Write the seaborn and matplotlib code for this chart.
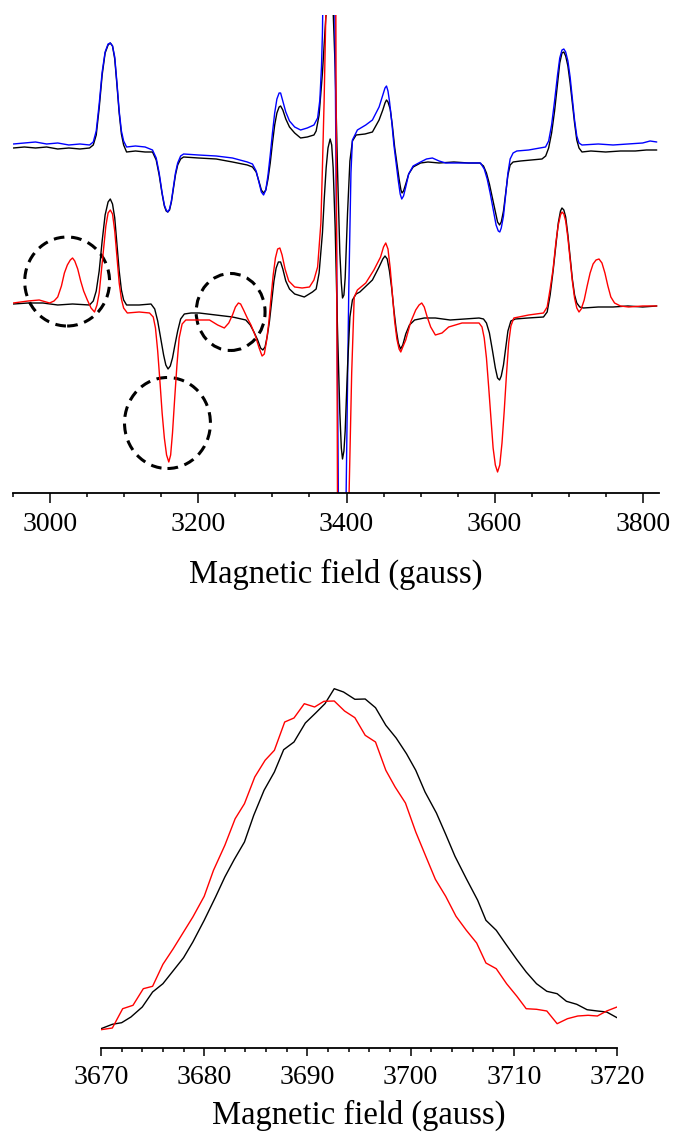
import numpy as np
import pandas as pd
import seaborn as sns
import matplotlib.pyplot as plt
from matplotlib.patches import Ellipse
from matplotlib.ticker import MultipleLocator

# ---- full scan (upper panel), intensity in arbitrary units ----
# upper pair: reference (black) and sample (blue)
up_black_x = [2950, 2965, 2980, 2995, 3010, 3025, 3040, 3053, 3058, 3062, 3066, 3070, 3074, 3078, 3081, 3084,
              3087, 3090, 3093, 3096, 3099, 3103, 3115, 3128, 3138, 3143, 3147, 3151, 3154, 3156.5, 3158.6,
              3161, 3163.5, 3166, 3169, 3172, 3176, 3180, 3200, 3224, 3246, 3266, 3273, 3278, 3282, 3285, 3288,
              3291, 3294, 3297, 3300, 3303, 3306, 3309, 3311, 3314, 3318, 3323, 3330, 3338, 3347, 3356, 3359,
              3363, 3367.5, 3372, 3375.6, 3377.9, 3381, 3384.7, 3387.8, 3391, 3393, 3394.6, 3396.5, 3398.2,
              3401.4, 3404.6, 3408, 3413, 3425, 3435, 3444, 3449, 3452, 3454, 3456, 3459, 3462, 3465, 3468,
              3471, 3473.5, 3475, 3477, 3480, 3484, 3490, 3500, 3510, 3525, 3545, 3565, 3580, 3585, 3589, 3593,
              3597, 3601, 3604, 3606.7, 3609, 3612, 3615, 3618, 3621, 3625, 3635, 3650, 3664, 3669, 3673, 3677,
              3681, 3685, 3688, 3691, 3693.5, 3696, 3699, 3702, 3705, 3708, 3711, 3714, 3718, 3730, 3750, 3770,
              3790, 3805, 3819]
up_black_y = [345, 346, 345, 346, 344, 345, 344, 345, 348, 358, 385, 418, 440, 448, 450, 447,
              434, 408, 380, 359, 348, 341, 342, 341, 341, 333, 318, 299, 287, 282, 281,
              283, 291, 303, 318, 328, 334, 336, 335, 334, 331, 328, 326, 321, 311, 303, 300,
              303, 314, 330, 350, 368, 380, 386, 387, 383, 374, 366, 360, 355, 356, 358, 362,
              378, 420, 475, 505, 514, 502, 425, 325, 240, 210, 195, 198, 215,
              280, 332, 352, 358, 359, 361, 373, 383, 390, 393, 391, 384, 367, 346, 330,
              314, 303, 300, 302, 309, 319, 326, 330, 331, 330, 331, 330, 330, 327, 320, 309,
              295, 281, 271, 268, 271, 282, 300, 318, 328, 331, 332, 333, 334, 337, 345, 360,
              382, 410, 430, 440, 441, 437, 427, 410, 390, 370, 353, 345, 341, 342, 341, 342,
              342, 343, 343]

up_blue_x = [2950, 2965, 2980, 2995, 3010, 3025, 3040, 3053, 3058, 3062, 3066, 3070, 3074, 3078, 3081, 3084,
             3087, 3090, 3093, 3096, 3099, 3103, 3115, 3128, 3138, 3143, 3147, 3151, 3154, 3156.5, 3158.6,
             3161, 3163.5, 3166, 3169, 3172, 3176, 3180, 3200, 3224, 3246, 3266, 3273, 3278, 3282, 3285, 3288,
             3291, 3294, 3297, 3300, 3303, 3306, 3309, 3311, 3314, 3318, 3323, 3330, 3338, 3347, 3356, 3361,
             3364, 3366.2, 3367.5, 3372, 3376, 3380, 3384.3, 3389, 3392, 3395, 3398, 3399.5, 3403, 3406, 3408,
             3414.7, 3426, 3435, 3444, 3449, 3452, 3454, 3456, 3458, 3461, 3464, 3467, 3470, 3472.5, 3474.6,
             3477, 3480, 3484, 3490, 3500, 3508, 3516, 3525, 3534, 3556, 3581, 3586, 3590, 3594, 3598, 3602,
             3605, 3607, 3609, 3612, 3615, 3618, 3621, 3625, 3630, 3646, 3668.8, 3673, 3677, 3681, 3685, 3688,
             3691, 3693.5, 3696, 3699, 3702, 3705, 3708, 3711, 3714, 3718, 3740, 3760, 3780, 3800, 3810, 3819]
up_blue_y = [349, 350, 351, 349, 350, 348, 349, 348, 351, 362, 389, 421, 441, 449, 450, 447,
             436, 410, 382, 362, 352, 346, 347, 346, 343, 335, 320, 300, 288, 283, 281,
             284, 292, 305, 320, 330, 337, 339, 338, 337, 335, 331, 329, 322, 310, 301, 298,
             303, 318, 338, 360, 380, 394, 400, 400, 392, 381, 372, 366, 363, 365, 368, 375,
             393, 426, 460, 700, 850, 780, 478, 0, -220, -260, -100, 0, 200, 320, 353,
             363, 368, 373, 386, 398, 405, 407, 402, 392, 372, 348, 330, 312, 299, 294,
             297, 306, 319, 327, 331, 334, 335, 332, 330, 330, 330, 324, 314, 300, 284, 268,
             262, 261, 265, 277, 298, 320, 334, 340, 342, 343, 346, 352, 368, 392, 418, 435,
             443, 444, 441, 432, 416, 395, 373, 357, 350, 348, 349, 348, 349, 350, 352, 351]

# lower pair: reference (black) and sample (red)
lo_black_x = [2950, 2970, 2990, 3010, 3030, 3053, 3058, 3062, 3066, 3070, 3074, 3078, 3081, 3084, 3087, 3090,
              3093, 3096, 3099, 3103, 3120, 3136, 3141, 3145, 3149, 3153, 3156, 3159, 3162, 3165, 3168, 3172,
              3176, 3181, 3190, 3201, 3224, 3246, 3264, 3270, 3275, 3280, 3284, 3287, 3290, 3293, 3296, 3299,
              3302, 3305, 3308, 3311, 3314, 3318, 3323, 3330, 3343, 3354, 3359, 3363, 3367.5, 3370, 3372.5,
              3375, 3377.9, 3380, 3382, 3384.7, 3387.8, 3391, 3393, 3394.6, 3396.5, 3398.2, 3401.4, 3404.6,
              3408, 3413, 3418, 3435, 3444, 3449, 3452, 3455, 3458, 3461, 3464, 3467, 3470, 3473, 3476, 3480,
              3485, 3492, 3505, 3520, 3540, 3560, 3579, 3585, 3589, 3593, 3597, 3601, 3604, 3606.7, 3609, 3612,
              3615, 3618, 3622, 3628, 3645, 3666, 3671, 3675, 3679, 3683, 3686, 3689, 3691, 3693.5, 3696,
              3699, 3702, 3705, 3708, 3711, 3715, 3720, 3740, 3760, 3780, 3800, 3819]
lo_black_y = [189, 190, 190, 188, 189, 188, 192, 202, 222, 252, 278, 291, 294, 289, 275, 248,
              222, 203, 193, 188, 188, 189, 184, 172, 155, 138, 128, 124, 127, 135, 147, 162,
              174, 179, 180, 180, 178, 176, 173, 168, 161, 153, 145, 143, 146, 157, 172, 192,
              212, 225, 231, 231, 224, 212, 204, 199, 196, 201, 204, 220, 260, 295, 325,
              345, 354, 348, 325, 265, 165, 80, 45, 34, 42, 62, 126, 176,
              193, 199, 201, 213, 226, 234, 237, 234, 222, 205, 183, 164, 150, 144, 148, 159,
              168, 173, 175, 175, 173, 174, 175, 174, 170, 160, 143, 125, 115, 113, 117, 128,
              145, 162, 172, 174, 175, 176, 181, 198, 222, 250, 270, 282, 285, 283, 276,
              258, 236, 214, 198, 190, 186, 185, 186, 186, 187, 186, 187]

lo_red_x = [2950, 2970, 2985, 2999, 3005, 3010, 3015, 3019, 3023, 3027, 3030, 3033, 3037, 3041, 3045, 3050,
            3055, 3059.7, 3063, 3066, 3069, 3072, 3075, 3078, 3081, 3084, 3087, 3090, 3093, 3096, 3099, 3104,
            3120, 3134, 3139, 3142, 3145, 3148, 3151, 3154, 3157, 3160, 3162.5, 3165, 3168, 3171, 3174, 3178,
            3183, 3201, 3215, 3226, 3235, 3241, 3246, 3250, 3254, 3257, 3261, 3266, 3271, 3277, 3282, 3286,
            3289, 3292, 3295, 3298, 3301, 3304, 3307, 3310, 3313, 3317, 3322, 3330, 3340, 3350, 3356, 3361,
            3365.4, 3367.5, 3369.8, 3372.1, 3376, 3380, 3383, 3385.6, 3387.8, 3392, 3396, 3400, 3403.5,
            3407, 3410.4, 3414.7, 3426, 3437, 3446, 3450, 3453, 3456, 3459, 3462, 3465, 3468, 3471, 3473.3,
            3476, 3480, 3486.7, 3493.5, 3498, 3501.6, 3505, 3509, 3513.7, 3520, 3529, 3538, 3556, 3579, 3583,
            3586, 3589, 3592, 3595, 3598, 3601, 3604, 3607, 3610, 3613, 3616, 3619, 3622, 3626, 3646, 3666,
            3671, 3675, 3679, 3683, 3686, 3689, 3691, 3693.5, 3696, 3699, 3702, 3705, 3708, 3711, 3714, 3717,
            3721, 3725, 3729, 3733, 3737, 3741, 3745, 3749, 3753, 3757, 3762, 3770, 3781, 3800, 3819]
lo_red_y = [190, 192, 193, 190, 192, 196, 207, 220, 228, 233, 235, 232, 224, 212, 202, 193,
            185, 181, 188, 200, 222, 245, 267, 280, 283, 279, 262, 236, 210, 194, 185, 180,
            181, 180, 176, 165, 142, 112, 80, 55, 38, 31, 38, 60, 95, 128, 155, 169,
            173, 173, 173, 168, 165, 170, 178, 186, 190, 189, 183, 175, 168, 157, 145, 137,
            139, 152, 170, 195, 218, 235, 244, 245, 238, 224, 212, 206, 205, 206, 213, 226,
            270, 326, 393, 480, 800, 950, 800, 478, 0, -300, -380, -250, 0,
            120, 196, 203, 210, 223, 236, 246, 250, 244, 225, 198, 172, 154, 144, 141,
            146, 153, 171, 183, 188, 190, 186, 176, 166, 158, 160, 166, 170, 170, 166,
            155, 135, 106, 75, 45, 28, 21, 28, 50, 82, 118, 150, 167, 175, 178, 180,
            186, 204, 224, 252, 268, 278, 281, 279, 272, 255, 234, 212, 195, 185, 181, 184,
            193, 207, 220, 229, 233, 234, 230, 220, 207, 196, 190, 187, 186, 187, 187]

# dashed circles marking the extra sample lines (centre, width, height in data units)
mark_x = [3022.7, 3158.2, 3243.5]
mark_y = [211.5, 70, 181]
mark_w = [114.6, 116, 93]
mark_h = [89, 91, 77]

# ---- zoom on the high-field line (lower panel) ----
zoom_black_x = [3670, 3671.1, 3672, 3672.9, 3674, 3675, 3676, 3676.9, 3678, 3678.9, 3680, 3681.1, 3682,
                3682.9, 3683.9, 3684.8, 3685.8, 3686.8, 3687.7, 3688.7, 3689.8, 3690.8, 3691.7, 3692.6, 3693.5,
                3694.6, 3695.6, 3696.6, 3697.6, 3698.6, 3699.6, 3700.5, 3701.4, 3702.5, 3703.4, 3704.3, 3705.4,
                3706.5, 3707.3, 3708.3, 3709.2, 3710.3, 3711.2, 3712.2, 3713.2, 3714.2, 3715.1, 3716.1, 3717.1,
                3718.1, 3719, 3720]
zoom_black_y = [19.3, 23.7, 25.3, 31, 41, 56, 64.3, 76, 90.3, 106, 127.7, 151, 171,
                188.3, 206, 232.7, 257.7, 276, 298.3, 306, 325, 335, 344.3, 359.3, 356,
                348.7, 349, 340.3, 322.7, 310, 294.3, 277.7, 256, 235, 213.7, 191.7, 169.3,
                147.7, 127.7, 117.7, 104.3, 88.3, 76, 64.3, 56.7, 54.3, 46.7, 43.7, 38.3,
                37, 36, 30.3]

zoom_red_x = [3670, 3671.1, 3672.1, 3673.1, 3674.1, 3675, 3676, 3677, 3678, 3678.9, 3680, 3680.9, 3682,
              3683, 3683.9, 3684.9, 3685.9, 3686.8, 3687.8, 3688.7, 3689.7, 3690.7, 3691.6, 3692.6, 3693.6,
              3694.6, 3695.6, 3696.6, 3697.6, 3698.5, 3699.5, 3700.5, 3701.5, 3702.4, 3703.4, 3704.4, 3705.4,
              3706.4, 3707.3, 3708.3, 3709.3, 3710.3, 3711.2, 3712.2, 3713.2, 3714.2, 3715.2, 3716.2, 3717.2,
              3718.1, 3719, 3720]
zoom_red_y = [18.3, 20, 39.3, 42.7, 59.3, 61.7, 83.7, 99.3, 116, 131, 151.7, 177.7, 202.7,
              229.3, 244.3, 271, 287.7, 297.7, 326, 330, 344.3, 341, 346.7, 347, 337,
              330.3, 312.7, 306, 277.7, 261, 245, 216, 191, 168.7, 151.7, 131.7, 117.7,
              105, 85, 79.3, 64.3, 51.7, 39.3, 38.7, 37, 24.3, 29.3, 32, 32.7,
              32, 37, 41]

sns.set_style('white')
plt.rcParams['font.family'] = ['Liberation Serif', 'DejaVu Serif']
plt.rcParams['text.color'] = 'black'
plt.rcParams['axes.labelcolor'] = 'black'
plt.rcParams['xtick.color'] = 'black'
plt.rcParams['axes.edgecolor'] = 'black'

fig = plt.figure(figsize=(6.73, 11.35), dpi=100)
ax1 = fig.add_axes([0.01976, 0.56564, 0.9594, 0.42115])
ax2 = fig.add_axes([0.15007, 0.076652, 0.76672, 0.33304])

lw = 1.0
sns.lineplot(x=up_black_x, y=up_black_y, ax=ax1, color='black', lw=lw, sort=False, estimator=None)
sns.lineplot(x=up_blue_x, y=up_blue_y, ax=ax1, color='#0000ff', lw=lw, sort=False, estimator=None)
sns.lineplot(x=lo_black_x, y=lo_black_y, ax=ax1, color='black', lw=lw, sort=False, estimator=None)
sns.lineplot(x=lo_red_x, y=lo_red_y, ax=ax1, color='#ff0000', lw=lw, sort=False, estimator=None)

for cx, cy, w, h in zip(mark_x, mark_y, mark_w, mark_h):
    ax1.add_patch(Ellipse((cx, cy), w, h, fill=False, edgecolor='black', lw=2.2,
                          linestyle=(0, (3.5, 2.2))))

ax1.set_xlim(2950, 3822)
ax1.set_ylim(0, 478)
ax1.xaxis.set_major_locator(MultipleLocator(200))
ax1.xaxis.set_minor_locator(MultipleLocator(50))

sns.lineplot(x=zoom_black_x, y=zoom_black_y, ax=ax2, color='black', lw=lw, sort=False, estimator=None)
sns.lineplot(x=zoom_red_x, y=zoom_red_y, ax=ax2, color='#ff0000', lw=lw, sort=False, estimator=None)
ax2.set_xlim(3670, 3720)
ax2.set_ylim(0, 378)
ax2.xaxis.set_major_locator(MultipleLocator(10))
ax2.xaxis.set_minor_locator(MultipleLocator(2))

for ax, big, small, lpad in [(ax1, 7.5, 3, 16), (ax2, 6, 3, 7)]:
    sns.despine(ax=ax, left=True)
    ax.set_yticks([])
    ax.set_ylabel('')
    ax.spines['bottom'].set_linewidth(1.3)
    ax.tick_params(axis='x', which='major', direction='out', length=big, width=1.1,
                   labelsize=20, pad=6, bottom=True)
    ax.tick_params(axis='x', which='minor', direction='out', length=small, width=1.1, bottom=True)
    ax.set_xlabel('Magnetic field (gauss)', fontsize=23.5, labelpad=lpad)

fig.savefig('out.png', dpi=100)
